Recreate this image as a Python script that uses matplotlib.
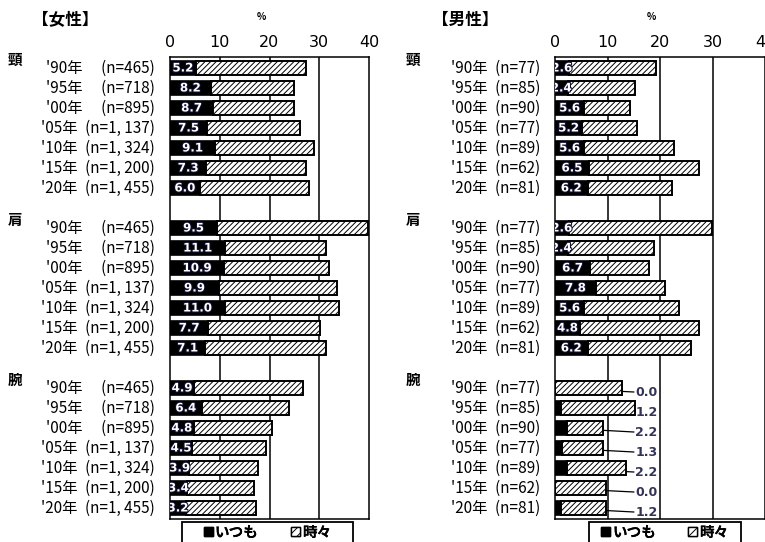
import matplotlib.pyplot as plt
from matplotlib.patches import Patch, Rectangle
from matplotlib.transforms import blended_transform_factory
import matplotlib.patheffects as pe

plt.rcParams['font.family'] = ['Noto Sans CJK JP', 'DejaVu Sans']
plt.rcParams['hatch.linewidth'] = 0.7

# data
years = ["'90年", "'95年", "'00年", "'05年", "'10年", "'15年", "'20年"]
parts = ['頸', '肩', '腕']

n_female = ['(n=465)', '(n=718)', '(n=895)', '(n=1, 137)', '(n=1, 324)', '(n=1, 200)', '(n=1, 455)']
n_male = ['(n=77)', '(n=85)', '(n=90)', '(n=77)', '(n=89)', '(n=62)', '(n=81)']

# いつも (always)
f_itsumo = {'頸': [5.2, 8.2, 8.7, 7.5, 9.1, 7.3, 6.0],
            '肩': [9.5, 11.1, 10.9, 9.9, 11.0, 7.7, 7.1],
            '腕': [4.9, 6.4, 4.8, 4.5, 3.9, 3.4, 3.2]}
# 時々 (sometimes)
f_tokidoki = {'頸': [22.1, 16.7, 16.2, 18.7, 19.8, 20.0, 22.0],
              '肩': [30.2, 20.2, 21.1, 23.6, 22.9, 22.4, 24.2],
              '腕': [21.8, 17.5, 15.7, 14.8, 13.8, 13.5, 14.0]}

m_itsumo = {'頸': [2.6, 2.4, 5.6, 5.2, 5.6, 6.5, 6.2],
            '肩': [2.6, 2.4, 6.7, 7.8, 5.6, 4.8, 6.2],
            '腕': [0.0, 1.2, 2.2, 1.3, 2.2, 0.0, 1.2]}
m_tokidoki = {'頸': [16.7, 12.9, 8.6, 10.4, 17.1, 20.9, 16.1],
              '肩': [27.3, 16.5, 11.2, 13.1, 18.0, 22.6, 19.7],
              '腕': [12.8, 14.1, 7.0, 7.9, 11.4, 9.8, 8.6]}

narrow = ['Liberation Sans Narrow', 'DejaVu Sans']

W, H = 765, 542
fig = plt.figure(figsize=(7.65, 5.42), dpi=100)


def panel(rect, title, title_x, itsumo, tokidoki, nlab, lab_x, part_x, outside_parts):
    ax = fig.add_axes(rect)
    ax.set_xlim(0, 40)
    ax.set_ylim(22.55, -0.55)
    ax.xaxis.tick_top()
    ax.set_xticks([0, 10, 20, 30, 40])
    ax.tick_params(axis='x', length=0, pad=5, labelsize=11.5)
    ax.set_yticks([])
    for lab in ax.get_xticklabels():
        lab.set_family(narrow)
    for x in [10, 20, 30]:
        ax.axvline(x, color='black', lw=1.1, zorder=0)
    for s in ax.spines.values():
        s.set_linewidth(1.1)
    tr = blended_transform_factory(fig.transFigure, ax.transData)

    for g, part in enumerate(parts):
        ys = [g * 8 + i for i in range(7)]
        a = itsumo[part]
        b = tokidoki[part]
        ax.barh(ys, a, height=0.72, color='black', edgecolor='black', lw=1.2, zorder=3)
        ax.barh(ys, b, left=a, height=0.72, color='white', edgecolor='black',
                hatch='//////', lw=1.4, zorder=3)
        ax.text(part_x, ys[0] - 0.4, part, fontsize=10.5, fontweight='bold',
                transform=tr, va='center', ha='left', clip_on=False)
        for i, y in enumerate(ys):
            sep = '\u3000 ' if len(nlab[i]) < 9 and nlab is n_female else '\u2002'
            ax.text(lab_x, y, years[i] + sep + nlab[i], transform=tr,
                    ha='right', va='center', fontsize=11, clip_on=False)
            if part in outside_parts:
                ax.plot([a[i] / 2, 15.0], [y, y + 0.2], color='black', lw=0.9, zorder=2)
                ax.text(15.3, y + 0.2, f'{a[i]:.1f}', ha='left', va='center', fontsize=9,
                        fontweight='bold', color='#333355', family=narrow)
            else:
                ax.text(a[i] / 2, y, f'{a[i]:.1f}', ha='center', va='center', fontsize=8.5,
                        fontweight='bold', color='white', zorder=5, clip_on=True,
                        family=narrow,
                        path_effects=[pe.withStroke(linewidth=1.5, foreground='#101030')])

    fig.text(title_x, 1 - 20 / H, title, fontsize=12, fontweight='bold', va='center')
    cx = rect[0] + rect[2] * 0.46
    fig.text(cx, 1 - 17 / H, '%', fontsize=7, fontweight='bold', va='center', ha='center')
    return ax


ax1 = panel([170 / W, 1 - 519 / H, 199 / W, 462 / H], '【女性】', 32 / W,
            f_itsumo, f_tokidoki, n_female, 155 / W, 8 / W, [])
ax2 = panel([555 / W, 1 - 519 / H, 210 / W, 462 / H], '【男性】', 432 / W,
            m_itsumo, m_tokidoki, n_male, 540 / W, 406 / W, ['腕'])

# legends: box hangs off the bottom edge like the reference
handles = [Patch(facecolor='black', edgecolor='black', label='いつも'),
           Patch(facecolor='white', edgecolor='black', hatch='////', label='時々')]
for x0, x1 in [(182, 353), (589, 741)]:
    fig.patches.append(Rectangle((x0 / W, -0.02), (x1 - x0) / W, 0.02 + (H - 522) / H,
                                 transform=fig.transFigure, facecolor='white',
                                 edgecolor='black', lw=1.3))
    leg = fig.legend(handles=handles, ncol=2, loc='center',
                     bbox_to_anchor=((x0 + x1) / 2 / W, 1 - 532 / H),
                     frameon=False, handlelength=0.6, handleheight=0.6, handletextpad=0.15,
                     columnspacing=2.2, borderpad=0, borderaxespad=0,
                     prop={'weight': 'bold', 'size': 10.5})
    fig.add_artist(leg)

fig.savefig('out.png', dpi=100)
